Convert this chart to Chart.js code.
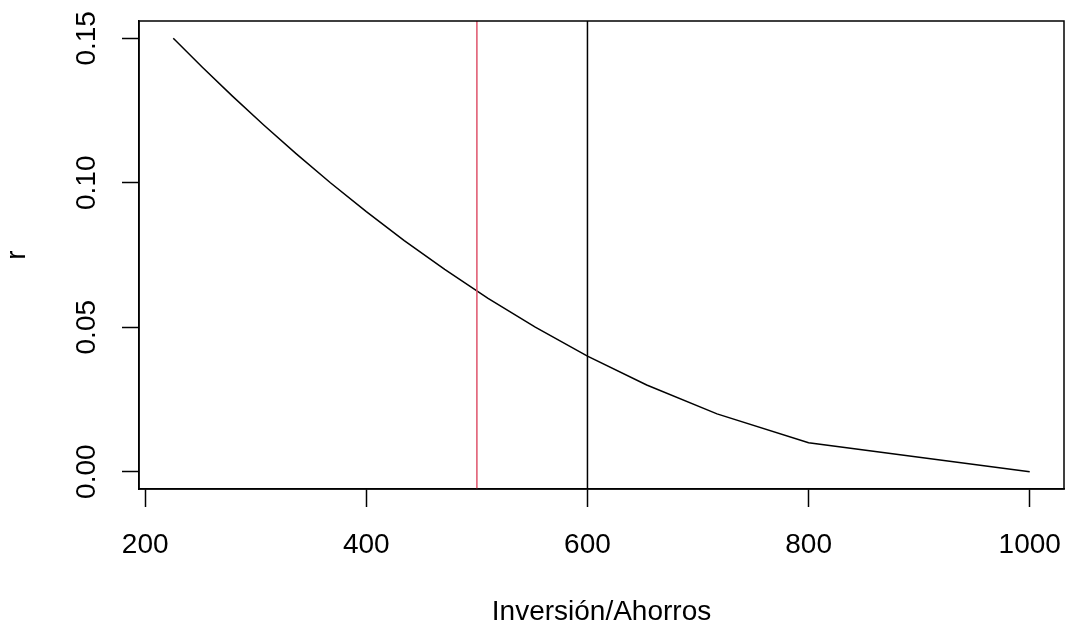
<!DOCTYPE html>
<html>
<head>
<meta charset="utf-8">
<script src="https://cdn.jsdelivr.net/npm/chart.js@4"></script>
<style>
  html, body { margin: 0; padding: 0; background: #fff; }
  canvas { display: block; }
</style>
</head>
<body>
<canvas id="rChart" width="1066" height="626"></canvas>
<script>
// curve values
const inversion = [1000, 800, 717.2, 653.6, 600, 552.8, 510.1, 470.9, 434.3, 400, 367.5, 336.7, 307.2, 278.9, 251.7, 225.4];
const rValues = [0, 0.01, 0.02, 0.03, 0.04, 0.05, 0.06, 0.07, 0.08, 0.09, 0.1, 0.11, 0.12, 0.13, 0.14, 0.15];

// vertical reference lines
const refX = [500, 600];
const refColors = ['#DF536B', '#000000'];

const xTicks = [200, 400, 600, 800, 1000];
const yTicks = [0, 0.05, 0.1, 0.15];
const yTickLabels = ['0.00', '0.05', '0.10', '0.15'];

const xMin = 194.4, xMax = 1031.0;
const yMin = -0.006, yMax = 0.156;

const FONT = 'Liberation Sans, Arial, Helvetica, sans-serif';
const FS = 28;

// box around the plot + rotated y tick labels (R style)
const rFrame = {
  id: 'rFrame',
  afterDraw(chart) {
    const { ctx, chartArea: a, scales } = chart;
    ctx.save();
    ctx.strokeStyle = '#000';
    ctx.lineWidth = 1.5;
    ctx.strokeRect(a.left, a.top, a.right - a.left, a.bottom - a.top);
    ctx.fillStyle = '#000';
    ctx.font = FS + 'px ' + FONT;
    ctx.textAlign = 'center';
    ctx.textBaseline = 'middle';
    yTicks.forEach((v, i) => {
      ctx.save();
      ctx.translate(87, scales.y.getPixelForValue(v));
      ctx.rotate(-Math.PI / 2);
      ctx.fillText(yTickLabels[i], 0, 0);
      ctx.restore();
    });
    ctx.restore();
  },
};

new Chart(document.getElementById('rChart'), {
  type: 'scatter',
  data: {
    datasets: [
      ...refX.map((x, i) => ({
        data: [{ x: x, y: yMin }, { x: x, y: yMax }],
        showLine: true,
        borderColor: refColors[i],
        borderWidth: 1.5,
        pointRadius: 0,
      })),
      {
        data: inversion.map((x, i) => ({ x: x, y: rValues[i] })),
        showLine: true,
        borderColor: '#000',
        borderWidth: 1.5,
        pointRadius: 0,
        tension: 0,
      },
    ],
  },
  options: {
    responsive: false,
    animation: false,
    devicePixelRatio: 1,
    layout: { padding: { top: 21, right: 2, left: 0, bottom: 0 } },
    plugins: { legend: { display: false }, tooltip: { enabled: false } },
    scales: {
      x: {
        type: 'linear',
        min: xMin,
        max: xMax,
        afterBuildTicks: (s) => { s.ticks = xTicks.map((v) => ({ value: v })); },
        afterFit: (s) => {
          s.height = 137;
          s.paddingLeft = 0;
          s.paddingRight = 0;
        },
        grid: { drawOnChartArea: false, tickLength: 18, tickColor: '#000', tickWidth: 1.5 },
        border: { display: true, color: '#000', width: 1.5 },
        ticks: {
          color: '#000',
          padding: 21,
          maxRotation: 0,
          font: { family: FONT, size: FS },
          callback: (v) => String(v),
        },
        title: {
          display: true,
          text: 'Inversión/Ahorros',
          color: '#000',
          font: { family: FONT, size: FS, lineHeight: 1 },
          padding: { top: 0, bottom: 0 },
        },
      },
      y: {
        type: 'linear',
        min: yMin,
        max: yMax,
        afterBuildTicks: (s) => { s.ticks = yTicks.map((v) => ({ value: v })); },
        afterFit: (s) => {
          s.width = 139;
          s.paddingTop = 0;
          s.paddingBottom = 0;
        },
        grid: { drawOnChartArea: false, tickLength: 17, tickColor: '#000', tickWidth: 1.5 },
        border: { display: true, color: '#000', width: 1.5 },
        ticks: { display: false },
        title: {
          display: true,
          text: 'r',
          color: '#000',
          font: { family: FONT, size: FS, lineHeight: 1 },
          padding: { top: 3, bottom: 0 },
        },
      },
    },
  },
  plugins: [rFrame],
});
</script>
</body>
</html>
